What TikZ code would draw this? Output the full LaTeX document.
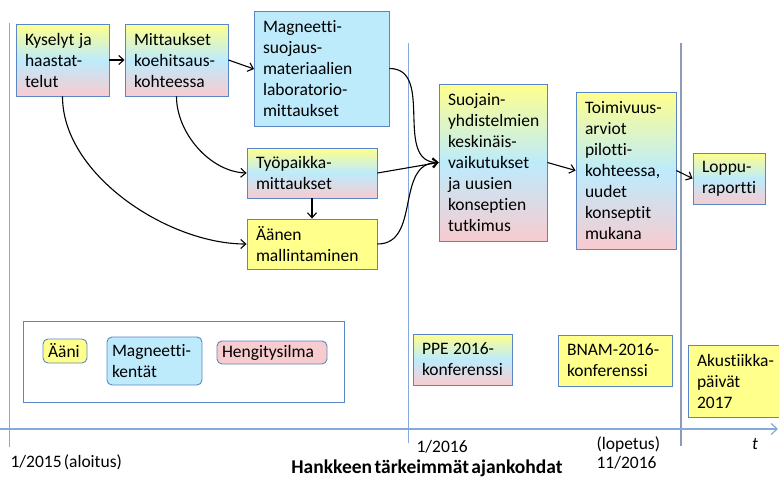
\documentclass[tikz,border=0pt]{standalone}
\usepackage{fontspec}
\setmainfont{Carlito}[Ligatures=NoCommon, WordSpace=0.55]
\usetikzlibrary{arrows.meta}
\definecolor{gy}{HTML}{FFFF8C}
\definecolor{gb}{HTML}{BDEBFC}
\definecolor{gp}{HTML}{F8CBCF}
\definecolor{bord}{HTML}{5B86C5}
\definecolor{vline}{HTML}{86A8DA}
\definecolor{vline2}{HTML}{8C9CB8}
\newcommand{\wsp}{\hspace{4.5pt}}
\tikzset{
  x=1pt, y=-1pt,
  every node/.style={font=\fontsize{17.5}{21}\selectfont},
  boxbase/.style={draw=bord, line width=0.9pt, inner xsep=9pt, inner ysep=0pt, align=left, anchor=center},
  gbox/.style={boxbase, top color=gy, bottom color=gp, middle color=gb},
  ybox/.style={boxbase, fill=gy},
  bbox/.style={boxbase, fill=gb},
  legbox/.style={draw=bord, line width=0.9pt, rounded corners=5pt, inner xsep=5pt, inner ysep=0pt, align=left},
  conn/.style={draw=black, line width=1.1pt, -{Straight Barb[length=5pt,width=9pt,line width=1.1pt]}},
  lbl/.style={font=\fontsize{17.5}{19.5}\selectfont, align=left},
}
\newcommand{\bx}[6]{\node[#1, minimum height=#5pt, text width=#4pt-18pt] (#2) at (#3) {#6};}
\begin{document}
\begin{tikzpicture}
\useasboundingbox (0,0) rectangle (779,477);
% time lines
\draw[vline, line width=1pt] (9,23) coordinate (v1t) -- (9,447) coordinate (v1b);
\draw[vline, line width=1pt] (408,43) coordinate (v2t) -- (408,443) coordinate (v2b);
\draw[vline2, line width=1.2pt] (681,43) coordinate (v3t) -- (681,446) coordinate (v3b);
\coordinate (axL) at (0,429);
\coordinate (axR) at (778,429);
\draw[vline, line width=1.2pt, -{Straight Barb[length=6pt,width=11pt,line width=1.2pt]}] (axL) -- (axR);

% boxes
\bx{gbox}{kys}{62.5,60}{93}{72}{\mbox{Kyselyt\wsp ja}\\haastat-\\telut}
\bx{gbox}{mit}{176.5,60}{103}{72}{Mittaukset\\koehitsaus-\\kohteessa}
\bx{bbox}{mag}{321.5,68.5}{135}{115}{Magneetti-\\suojaus-\\materiaalien\\laboratorio-\\mittaukset}
\bx{gbox}{tyo}{312,173}{130}{50}{Työpaikka-\\mittaukset}
\bx{ybox}{aan}{312,244}{130}{50}{Äänen\\mallintaminen}
\bx{gbox}{suo}{493,162.5}{108}{157}{Suojain-\\yhdistelmien\\keskinäis-\\vaikutukset\\\mbox{ja\wsp uusien}\\konseptien\\tutkimus}
\bx{gbox}{toi}{626,170.5}{100}{157}{Toimivuus-\\arviot\\pilotti-\\kohteessa,\\uudet\\konseptit\\mukana}
\bx{gbox}{lop}{729,178.5}{72}{51}{Loppu-\\raportti}
\bx{gbox}{ppe}{462.5,359.5}{99}{51}{\mbox{PPE\wsp 2016-}\\konferenssi}
\bx{ybox}{bnam}{615,360.5}{114}{51}{\mbox{BNAM-2016-}\\konferenssi}
\bx{ybox}{aku}{737,381}{98}{72}{\mbox{Akustiikka-}\\päivät\\2017}

% legend
\node[draw=bord, line width=0.9pt, minimum width=321pt, minimum height=81pt, inner sep=0pt] (leg) at (183.5,361.5) {};
\node[legbox, fill=gy, minimum height=24pt, text width=34pt] (aani) at (65,351) {Ääni};
\node[legbox, fill=gb, minimum height=48pt, text width=85pt] (mk) at (154.5,361) {Magneetti-\\kentät};
\node[legbox, fill=gp, minimum height=23pt, text width=100pt] (hen) at (272,352.5) {Hengitysilma};

% connectors
\coordinate (magin) at (254,69);
\draw[conn] (kys.east) -- (mit.west);
\draw[conn] (mit.east) -- (magin);
\draw[conn] (mit.south) to[out=-90, in=178, looseness=0.9] (tyo.west);
\draw[conn] (kys.south) to[out=-90, in=180, looseness=0.85] (aan.west);
\draw[conn] (tyo.south) -- (aan.north);
\draw[conn] (mag.east) to[out=0, in=180, looseness=1.1] (suo.west);
\draw[conn] (tyo.east) -- (suo.west);
\draw[conn] (aan.east) to[out=0, in=180, looseness=1.1] (suo.west);
\draw[conn] (suo.east) -- (toi.west);
\draw[conn] (toi.east) -- (lop.west);

% labels
\node[lbl, anchor=west] (l2015) at (7,462) {1/2015 (aloitus)};
\node[lbl, anchor=west] (l2016) at (413,447) {1/2016};
\node[lbl, anchor=west] (lend) at (593,453) {(lopetus)\\11/2016};
\node[lbl, font=\fontsize{17.5}{19.5}\selectfont\itshape] (lt) at (755,444) {t};
\node[font=\fontsize{19.5}{22}\selectfont\bfseries] (title) at (427,468) {Hankkeen tärkeimmät ajankohdat};
\end{tikzpicture}
\end{document}
